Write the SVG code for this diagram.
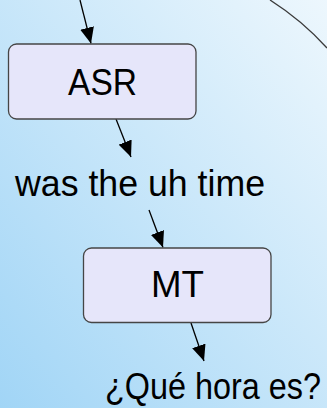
<svg xmlns="http://www.w3.org/2000/svg" width="327" height="408" viewBox="0 0 327 408">
  <defs>
    <linearGradient id="bg" x1="0" y1="1" x2="1" y2="0">
      <stop offset="0" stop-color="#a1d5f6"/>
      <stop offset="1" stop-color="#edf7fd"/>
    </linearGradient>
    <marker id="ah" viewBox="0 0 16 14" refX="16" refY="7" markerWidth="16" markerHeight="14" markerUnits="userSpaceOnUse" orient="auto">
      <path d="M0,0 L16,7 L0,14 Z" fill="#000"/>
    </marker>
  </defs>
  <style>
    .box { fill: #e6e6fa; stroke: #454545; stroke-width: 1.3; }
    .lbl { font-family: "Liberation Sans", Arial, sans-serif; font-size: 36px; fill: #000; text-anchor: middle; }
    .edge { stroke: #000; stroke-width: 1.3; fill: none; marker-end: url(#ah); }
  </style>
  <rect width="327" height="408" fill="url(#bg)"/>
  <path d="M270,0 A279,279 0 0 1 327,48" fill="none" stroke="#3a3a3a" stroke-width="1.3"/>
  <g id="connectors">
    <line class="edge" x1="80" y1="0" x2="91" y2="43.5"/>
    <line class="edge" x1="116" y1="119" x2="131" y2="157"/>
    <line class="edge" x1="149" y1="210" x2="163" y2="247.5"/>
    <line class="edge" x1="191" y1="323" x2="204" y2="361"/>
  </g>
  <g id="asr">
    <rect class="box" x="8.5" y="44" width="187.5" height="75" rx="8"/>
    <text class="lbl" x="102.5" y="95" textLength="69" lengthAdjust="spacingAndGlyphs">ASR</text>
  </g>
  <g id="asr-output">
    <text class="lbl" x="140" y="196" textLength="250" lengthAdjust="spacingAndGlyphs">was the uh time</text>
  </g>
  <g id="mt">
    <rect class="box" x="83.5" y="248" width="187.5" height="74.5" rx="8"/>
    <text class="lbl" x="177.5" y="297" textLength="53" lengthAdjust="spacingAndGlyphs">MT</text>
  </g>
  <g id="mt-output">
    <text class="lbl" x="213" y="399" textLength="216" lengthAdjust="spacingAndGlyphs">¿Qué hora es?</text>
  </g>
</svg>
